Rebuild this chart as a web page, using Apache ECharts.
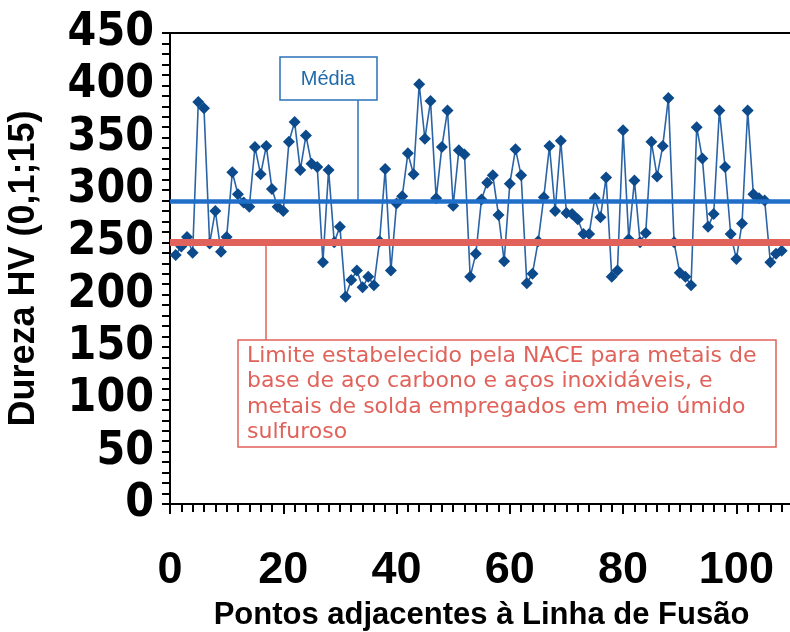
<!DOCTYPE html>
<html>
<head>
<meta charset="utf-8">
<script src="https://cdn.jsdelivr.net/npm/echarts@6/dist/echarts.min.js"></script>
<style>
html, body { margin: 0; padding: 0; background: #fff; }
#chart { width: 790px; height: 632px; }
</style>
</head>
<body>
<div id="chart"></div>
<script>
// dureza medida em cada ponto (1..108)
var hardness = [
    238, 246, 255, 240, 384, 378, 249, 280, 241, 255,
    317, 296, 288, 284, 341, 315, 342, 301, 284, 280,
    346, 365, 319, 352, 325, 322, 231, 319, 250, 265,
    198, 214, 223, 207, 217, 209, 251, 320, 223, 287,
    294, 335, 315, 401, 349, 385, 292, 341, 376, 285,
    338, 334, 217, 239, 291, 307, 314, 276, 232, 306,
    339, 314, 211, 220, 251, 293, 342, 280, 347, 278,
    277, 272, 258, 258, 292, 274, 312, 217, 223, 357,
    253, 309, 250, 259, 346, 313, 342, 388, 250, 221,
    217, 209, 360, 330, 265, 277, 376, 322, 258, 234,
    268, 376, 296, 292, 290, 231, 239, 242
];
var xTicks = [0, 20, 40, 60, 80, 100];
var yTicks = [0, 50, 100, 150, 200, 250, 300, 350, 400, 450];
var mediaValue = 289;
var naceLimit = 250;
var naceText = [
    'Limite estabelecido pela NACE para metais de',
    'base de aço carbono e aços inoxidáveis, e',
    'metais de solda empregados em meio úmido',
    'sulfuroso'
];

var sans = "'Liberation Sans', Arial, sans-serif";
var wide = "'DejaVu Sans', sans-serif";
var narrow = "'DejaVu Sans Condensed', 'DejaVu Sans', sans-serif";
var red = '#e0625a';
var blue = '#2a72b8';

var chart = echarts.init(document.getElementById('chart'));

var points = hardness.map(function (v, i) { return [i + 1, v]; });

var textGraphics = naceText.map(function (t, i) {
    return {
        type: 'text',
        x: 247,
        y: 356 + i * 25.5,
        style: {
            text: t, fontSize: 22, fontFamily: wide,
            fill: red, verticalAlign: 'middle'
        }
    };
});

var option = {
    animation: false,
    grid: {
        left: 170,
        right: -3,
        top: 33,
        bottom: 128,
        outerBoundsMode: 'none',
        containLabel: false,
        show: true,
        borderColor: '#000',
        borderWidth: 2
    },
    xAxis: {
        type: 'value',
        min: 0,
        max: 110,
        interval: xTicks[1] - xTicks[0],
        name: 'Pontos adjacentes à Linha de Fusão',
        nameLocation: 'middle',
        nameGap: 96,
        nameTextStyle: { fontFamily: sans, fontWeight: 'bold', fontSize: 31, color: '#000' },
        axisLine: { lineStyle: { color: '#000', width: 2 } },
        axisTick: { length: 10, lineStyle: { color: '#000', width: 2 } },
        minorTick: { show: true, splitNumber: 10, length: 8, lineStyle: { color: '#000', width: 2 } },
        axisLabel: {
            margin: 44,
            showMaxLabel: false,
            fontFamily: sans, fontWeight: 'bold', fontSize: 45, color: '#000'
        },
        splitLine: { show: false }
    },
    yAxis: {
        type: 'value',
        min: yTicks[0],
        max: yTicks[yTicks.length - 1],
        interval: yTicks[1] - yTicks[0],
        name: 'Dureza HV (0,1;15)',
        nameLocation: 'middle',
        nameRotate: 90,
        nameGap: 128,
        nameTextStyle: { fontFamily: sans, fontWeight: 'bold', fontSize: 36, color: '#000' },
        axisLine: { lineStyle: { color: '#000', width: 2 } },
        axisTick: { length: 8, lineStyle: { color: '#000', width: 2 } },
        minorTick: { show: true, splitNumber: 5, length: 8, lineStyle: { color: '#000', width: 2 } },
        axisLabel: {
            margin: 16,
            padding: [10, 0, 0, 0],
            fontFamily: narrow, fontWeight: 'bold', fontSize: 46, color: '#000'
        },
        splitLine: { show: false }
    },
    series: [
        {
            // linhas de referência, abaixo dos pontos
            type: 'line',
            data: [],
            z: 1,
            markLine: {
                silent: true,
                symbol: 'none',
                label: { show: false },
                data: [
                    { yAxis: naceLimit, lineStyle: { color: red, width: 7, type: 'solid' } },
                    { yAxis: mediaValue, lineStyle: { color: '#1f6fc8', width: 4.5, type: 'solid' } }
                ]
            }
        },
        {
            name: 'Dureza',
            type: 'line',
            z: 3,
            data: points,
            symbol: 'diamond',
            symbolSize: 12,
            itemStyle: { color: '#0c4a8c' },
            lineStyle: { color: '#2a63a6', width: 1.6 }
        }
    ],
    graphic: [
        {
            type: 'line',
            shape: { x1: 358, y1: 100, x2: 358, y2: 201 },
            style: { stroke: blue, lineWidth: 1.5 }
        },
        {
            type: 'rect',
            shape: { x: 280, y: 57, width: 97, height: 43 },
            style: { fill: '#fff', stroke: blue, lineWidth: 1.5 }
        },
        {
            type: 'text',
            x: 328, y: 79,
            style: {
                text: 'Média', fontSize: 20, fontFamily: sans,
                fill: '#1f6aa8', align: 'center', verticalAlign: 'middle'
            }
        },
        {
            type: 'line',
            shape: { x1: 266, y1: 245, x2: 266, y2: 340 },
            style: { stroke: red, lineWidth: 1.5 }
        },
        {
            type: 'rect',
            shape: { x: 238, y: 340, width: 538, height: 107 },
            style: { fill: '#fff', stroke: red, lineWidth: 1.5 }
        }
    ].concat(textGraphics)
};

chart.setOption(option);
</script>
</body>
</html>
